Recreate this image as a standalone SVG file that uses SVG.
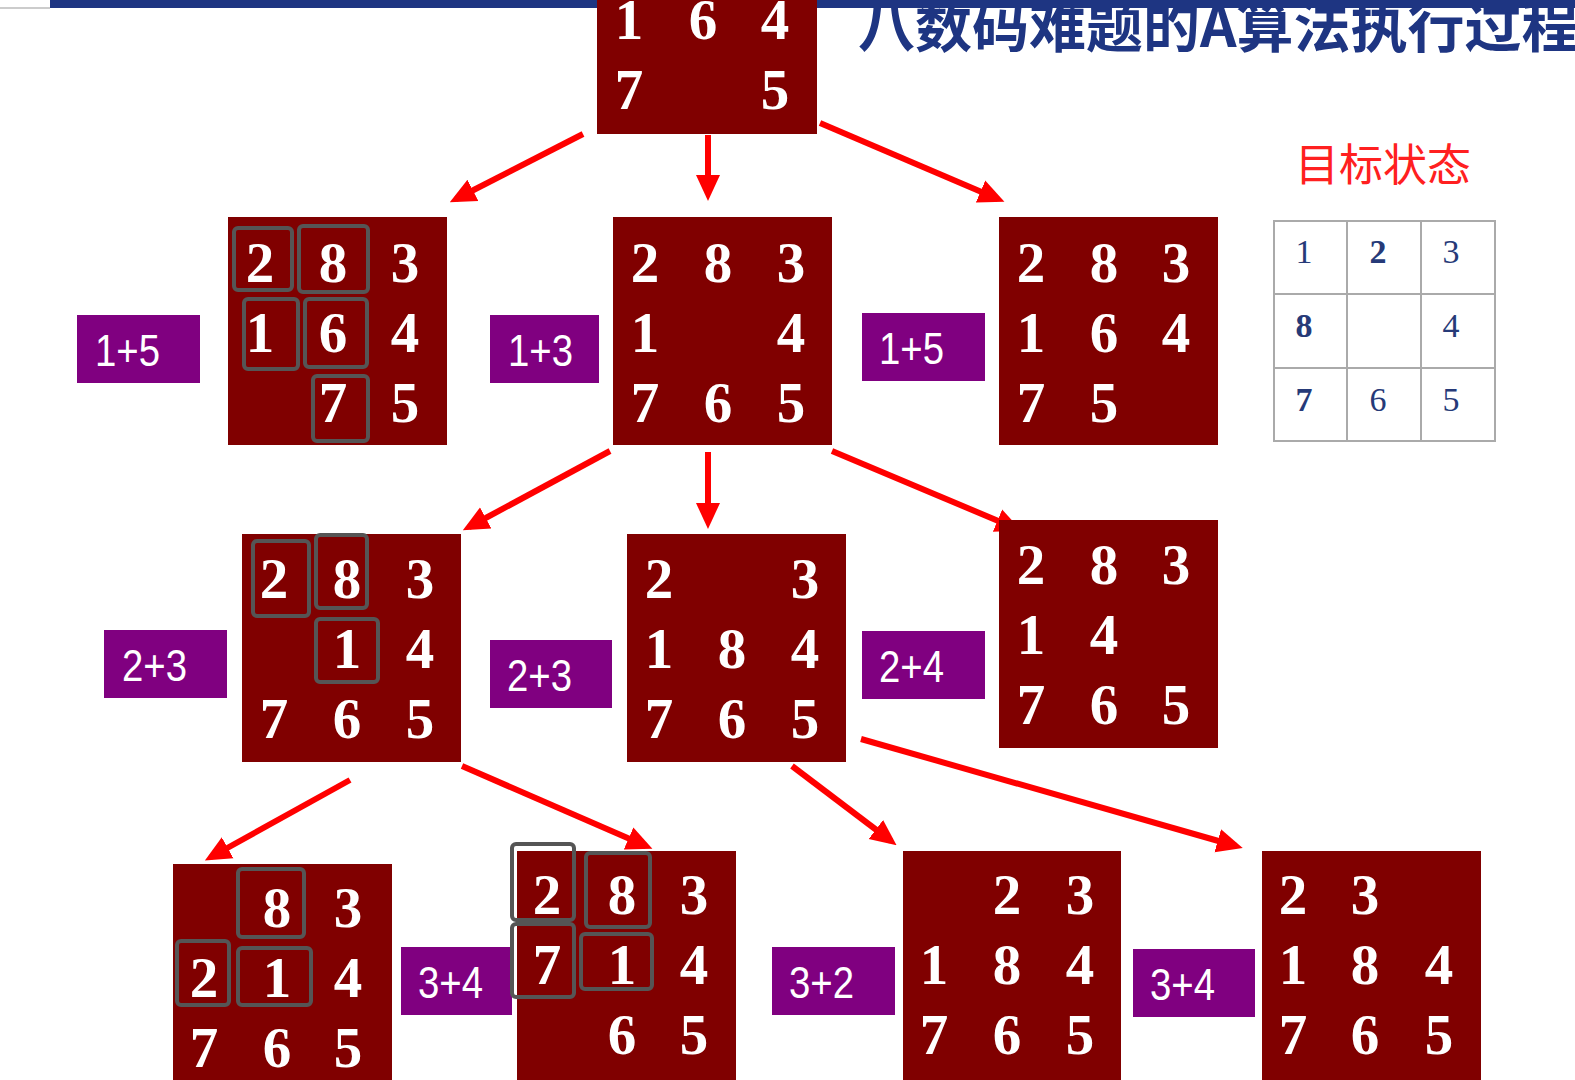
<svg xmlns="http://www.w3.org/2000/svg" width="1575" height="1080" viewBox="0 0 1575 1080">
<style>
.box{fill:#800000}
.n{font-family:"Liberation Serif",serif;font-weight:bold;font-size:57px;fill:#fff;text-anchor:middle}
.hl{fill:none;stroke:#555;stroke-width:4}
.lab{fill:#800080}
.lt{font-family:"Liberation Sans",sans-serif;font-size:44px;fill:#fff}
.arr{stroke:#f00;stroke-width:6;fill:none;marker-end:url(#ah)}
.g{fill:#fff;stroke:#aaa;stroke-width:2}
.gn{font-family:"Liberation Serif",serif;font-size:34px;fill:#263a78;text-anchor:middle}
.gb{font-weight:bold}
</style>
<defs>
<marker id="ah" markerUnits="userSpaceOnUse" markerWidth="26" markerHeight="26" viewBox="0 0 26 26" refX="19" refY="13" orient="auto">
<path d="M0,1 L26,13 L0,25 z" fill="#f00"/>
</marker>
</defs>
<rect width="1575" height="1080" fill="#fff"/>
<g id="title">
<text x="858" y="47" font-family="'Noto Sans CJK SC',sans-serif" font-weight="bold" font-size="57" fill="#1e3582">八数码难题的A算法执行过程</text>
<rect x="50" y="0" width="1525" height="8" fill="#1e3582"/>
<rect x="0" y="7" width="50" height="2" fill="#ccc"/>
</g>
<g id="connectors">
<line class="arr" x1="583" y1="134" x2="456" y2="199"/>
<line class="arr" x1="708" y1="135" x2="708" y2="194"/>
<line class="arr" x1="820" y1="123" x2="998" y2="199"/>
<line class="arr" x1="610" y1="451" x2="469" y2="527"/>
<line class="arr" x1="708" y1="452" x2="708" y2="522"/>
<line class="arr" x1="832" y1="451" x2="1015" y2="528"/>
<line class="arr" x1="350" y1="780" x2="211" y2="857"/>
<line class="arr" x1="462" y1="766" x2="646" y2="846"/>
<line class="arr" x1="792" y1="766" x2="891" y2="841"/>
<line class="arr" x1="861" y1="739" x2="1236" y2="846"/>
</g>
<g id="n0">
<rect class="box" x="597" y="0" width="220" height="134"/>
<text class="n" x="629" y="39">1</text><text class="n" x="703" y="39">6</text><text class="n" x="775" y="39">4</text>
<text class="n" x="629" y="109">7</text><text class="n" x="775" y="109">5</text>
</g>
<g id="n1a">
<rect class="box" x="228" y="217" width="219" height="228"/>
<text class="n" x="260" y="282">2</text><text class="n" x="333" y="282">8</text><text class="n" x="405" y="282">3</text>
<text class="n" x="260" y="352">1</text><text class="n" x="333" y="352">6</text><text class="n" x="405" y="352">4</text>
<text class="n" x="333" y="422">7</text><text class="n" x="405" y="422">5</text>
<rect class="hl" x="234" y="228" width="58" height="62" rx="4"/>
<rect class="hl" x="299" y="226" width="69" height="66" rx="4"/>
<rect class="hl" x="244" y="299" width="54" height="70" rx="4"/>
<rect class="hl" x="305" y="299" width="62" height="68" rx="4"/>
<rect class="hl" x="313" y="376" width="55" height="65" rx="4"/>
</g>
<g id="l1a"><rect class="lab" x="77" y="315" width="123" height="68"/><text class="lt" x="95" y="366" textLength="65" lengthAdjust="spacingAndGlyphs">1+5</text></g>
<g id="n1b">
<rect class="box" x="613" y="217" width="219" height="228"/>
<text class="n" x="645" y="282">2</text><text class="n" x="718" y="282">8</text><text class="n" x="791" y="282">3</text>
<text class="n" x="645" y="352">1</text><text class="n" x="791" y="352">4</text>
<text class="n" x="645" y="422">7</text><text class="n" x="718" y="422">6</text><text class="n" x="791" y="422">5</text>
</g>
<g id="l1b"><rect class="lab" x="490" y="315" width="109" height="68"/><text class="lt" x="508" y="366" textLength="65" lengthAdjust="spacingAndGlyphs">1+3</text></g>
<g id="n1c">
<rect class="box" x="999" y="217" width="219" height="228"/>
<text class="n" x="1031" y="282">2</text><text class="n" x="1104" y="282">8</text><text class="n" x="1176" y="282">3</text>
<text class="n" x="1031" y="352">1</text><text class="n" x="1104" y="352">6</text><text class="n" x="1176" y="352">4</text>
<text class="n" x="1031" y="422">7</text><text class="n" x="1104" y="422">5</text>
</g>
<g id="l1c"><rect class="lab" x="862" y="313" width="123" height="68"/><text class="lt" x="879" y="364" textLength="65" lengthAdjust="spacingAndGlyphs">1+5</text></g>
<g id="n2a">
<rect class="box" x="242" y="534" width="219" height="228"/>
<text class="n" x="274" y="598">2</text><text class="n" x="347" y="598">8</text><text class="n" x="420" y="598">3</text>
<text class="n" x="347" y="668">1</text><text class="n" x="420" y="668">4</text>
<text class="n" x="274" y="738">7</text><text class="n" x="347" y="738">6</text><text class="n" x="420" y="738">5</text>
<rect class="hl" x="253" y="541" width="56" height="75" rx="4"/>
<rect class="hl" x="316" y="535" width="51" height="73" rx="4"/>
<rect class="hl" x="316" y="619" width="62" height="63" rx="4"/>
</g>
<g id="l2a"><rect class="lab" x="104" y="630" width="123" height="68"/><text class="lt" x="122" y="681" textLength="65" lengthAdjust="spacingAndGlyphs">2+3</text></g>
<g id="n2b">
<rect class="box" x="627" y="534" width="219" height="228"/>
<text class="n" x="659" y="598">2</text><text class="n" x="805" y="598">3</text>
<text class="n" x="659" y="668">1</text><text class="n" x="732" y="668">8</text><text class="n" x="805" y="668">4</text>
<text class="n" x="659" y="738">7</text><text class="n" x="732" y="738">6</text><text class="n" x="805" y="738">5</text>
</g>
<g id="l2b"><rect class="lab" x="490" y="640" width="122" height="68"/><text class="lt" x="507" y="691" textLength="65" lengthAdjust="spacingAndGlyphs">2+3</text></g>
<g id="n2c">
<rect class="box" x="999" y="520" width="219" height="228"/>
<text class="n" x="1031" y="584">2</text><text class="n" x="1104" y="584">8</text><text class="n" x="1176" y="584">3</text>
<text class="n" x="1031" y="654">1</text><text class="n" x="1104" y="654">4</text>
<text class="n" x="1031" y="724">7</text><text class="n" x="1104" y="724">6</text><text class="n" x="1176" y="724">5</text>
</g>
<g id="l2c"><rect class="lab" x="862" y="631" width="123" height="68"/><text class="lt" x="879" y="682" textLength="65" lengthAdjust="spacingAndGlyphs">2+4</text></g>
<g id="n3a">
<rect class="box" x="173" y="864" width="219" height="230"/>
<text class="n" x="348" y="927">3</text><text class="n" x="277" y="927">8</text>
<text class="n" x="204" y="997">2</text><text class="n" x="277" y="997">1</text><text class="n" x="348" y="997">4</text>
<text class="n" x="204" y="1067">7</text><text class="n" x="277" y="1067">6</text><text class="n" x="348" y="1067">5</text>
<rect class="hl" x="238" y="869" width="66" height="68" rx="4"/>
<rect class="hl" x="177" y="941" width="52" height="64" rx="4"/>
<rect class="hl" x="238" y="948" width="73" height="57" rx="4"/>
</g>
<g id="l3a"><rect class="lab" x="401" y="947" width="111" height="68"/><text class="lt" x="418" y="998" textLength="65" lengthAdjust="spacingAndGlyphs">3+4</text></g>
<g id="n3b">
<rect class="box" x="517" y="851" width="219" height="240"/>
<text class="n" x="547" y="914">2</text><text class="n" x="622" y="914">8</text><text class="n" x="694" y="914">3</text>
<text class="n" x="547" y="984">7</text><text class="n" x="622" y="984">1</text><text class="n" x="694" y="984">4</text>
<text class="n" x="622" y="1054">6</text><text class="n" x="694" y="1054">5</text>
<rect class="hl" x="512" y="844" width="62" height="76" rx="4"/>
<rect class="hl" x="512" y="924" width="62" height="73" rx="4"/>
<rect class="hl" x="586" y="853" width="64" height="74" rx="4"/>
<rect class="hl" x="581" y="934" width="71" height="55" rx="4"/>
</g>
<g id="l3b"><rect class="lab" x="772" y="947" width="123" height="68"/><text class="lt" x="789" y="998" textLength="65" lengthAdjust="spacingAndGlyphs">3+2</text></g>
<g id="n3c">
<rect class="box" x="903" y="851" width="218" height="240"/>
<text class="n" x="1007" y="914">2</text><text class="n" x="1080" y="914">3</text>
<text class="n" x="934" y="984">1</text><text class="n" x="1007" y="984">8</text><text class="n" x="1080" y="984">4</text>
<text class="n" x="934" y="1054">7</text><text class="n" x="1007" y="1054">6</text><text class="n" x="1080" y="1054">5</text>
</g>
<g id="l3c"><rect class="lab" x="1133" y="949" width="122" height="68"/><text class="lt" x="1150" y="1000" textLength="65" lengthAdjust="spacingAndGlyphs">3+4</text></g>
<g id="n3d">
<rect class="box" x="1262" y="851" width="219" height="240"/>
<text class="n" x="1293" y="914">2</text><text class="n" x="1365" y="914">3</text>
<text class="n" x="1293" y="984">1</text><text class="n" x="1365" y="984">8</text><text class="n" x="1439" y="984">4</text>
<text class="n" x="1293" y="1054">7</text><text class="n" x="1365" y="1054">6</text><text class="n" x="1439" y="1054">5</text>
</g>
<g id="goal">
<text x="1383" y="181" font-family="'Noto Sans CJK SC',sans-serif" font-size="44" fill="#ff2020" text-anchor="middle">目标状态</text>
<rect class="g" x="1274" y="221" width="221" height="220"/>
<line x1="1347" y1="221" x2="1347" y2="441" stroke="#aaa" stroke-width="2"/>
<line x1="1421" y1="221" x2="1421" y2="441" stroke="#aaa" stroke-width="2"/>
<line x1="1274" y1="294" x2="1495" y2="294" stroke="#aaa" stroke-width="2"/>
<line x1="1274" y1="368" x2="1495" y2="368" stroke="#aaa" stroke-width="2"/>
<text class="gn" x="1304" y="263">1</text><text class="gn gb" x="1378" y="263">2</text><text class="gn" x="1451" y="263">3</text>
<text class="gn gb" x="1304" y="337">8</text><text class="gn" x="1451" y="337">4</text>
<text class="gn gb" x="1304" y="411">7</text><text class="gn" x="1378" y="411">6</text><text class="gn" x="1451" y="411">5</text>
</g>
</svg>
